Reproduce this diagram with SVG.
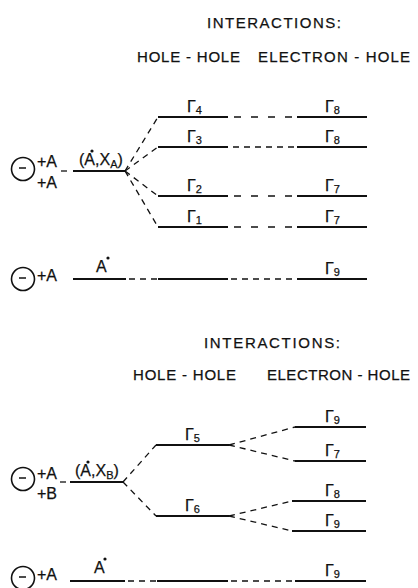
<svg xmlns="http://www.w3.org/2000/svg" width="418" height="588" viewBox="0 0 418 588">
  <style>
    .bg { fill: #ffffff; }
    .lvl { stroke: #111111; stroke-width: 2.2; fill: none; stroke-linecap: butt; }
    .dash { stroke: #111111; stroke-width: 1.3; fill: none; stroke-dasharray: 6 5; }
    .dash-wide { stroke: #111111; stroke-width: 1.3; fill: none; stroke-dasharray: 7 10; }
    .ring { stroke: #111111; stroke-width: 1.6; fill: none; }
    .minus { stroke: #111111; stroke-width: 1.5; }
    .dot { fill: #111111; }
    text { font-family: "Liberation Sans", Arial, sans-serif; fill: #111111; stroke: #111111; stroke-width: 0.25; }
    .head { font-size: 15px; }
    .lab { font-size: 16px; }
    .g { font-size: 16px; }
    .sub { font-size: 11px; }
  </style>

  <rect class="bg" x="0" y="0" width="418" height="588"/>

  <!-- ===== Upper scheme: A + A ===== -->
  <g id="header-top">
    <text class="head" x="207" y="28" textLength="134" lengthAdjust="spacing">INTERACTIONS:</text>
    <text class="head" x="137" y="62" textLength="103" lengthAdjust="spacing">HOLE - HOLE</text>
    <text class="head" x="258" y="62" textLength="152" lengthAdjust="spacing">ELECTRON - HOLE</text>
  </g>

  <g id="site-AA">
    <circle class="ring" cx="23" cy="169" r="11.5"/>
    <line class="minus" x1="19" y1="168" x2="26" y2="168"/>
    <text class="lab" x="37" y="167">+A</text>
    <text class="lab" x="37" y="188">+A</text>
  </g>

  <g id="level-AXA">
    <line class="lvl" x1="73" y1="171" x2="125" y2="171"/>
    <text class="lab" x="79" y="165">(A,X<tspan class="sub" dy="3">A</tspan><tspan dy="-3">)</tspan></text>
    <circle class="dot" cx="92" cy="151" r="1.6"/>
  </g>

  <g id="level-G4">
    <line class="lvl" x1="158" y1="117" x2="228" y2="117"/>
    <text class="g" x="187" y="112">Γ<tspan class="sub" dy="2">4</tspan></text>
  </g>
  <g id="level-G3">
    <line class="lvl" x1="158" y1="147" x2="228" y2="147"/>
    <text class="g" x="187" y="142">Γ<tspan class="sub" dy="2">3</tspan></text>
  </g>
  <g id="level-G2">
    <line class="lvl" x1="158" y1="196" x2="228" y2="196"/>
    <text class="g" x="187" y="191">Γ<tspan class="sub" dy="2">2</tspan></text>
  </g>
  <g id="level-G1">
    <line class="lvl" x1="158" y1="227" x2="228" y2="227"/>
    <text class="g" x="187" y="222">Γ<tspan class="sub" dy="2">1</tspan></text>
  </g>

  <g id="level-G8a">
    <line class="lvl" x1="297" y1="117" x2="367" y2="117"/>
    <text class="g" x="325" y="112">Γ<tspan class="sub" dy="2">8</tspan></text>
  </g>
  <g id="level-G8b">
    <line class="lvl" x1="297" y1="147" x2="367" y2="147"/>
    <text class="g" x="325" y="142">Γ<tspan class="sub" dy="2">8</tspan></text>
  </g>
  <g id="level-G7a">
    <line class="lvl" x1="297" y1="196" x2="367" y2="196"/>
    <text class="g" x="325" y="191">Γ<tspan class="sub" dy="2">7</tspan></text>
  </g>
  <g id="level-G7b">
    <line class="lvl" x1="297" y1="227" x2="367" y2="227"/>
    <text class="g" x="325" y="222">Γ<tspan class="sub" dy="2">7</tspan></text>
  </g>

  <g id="site-A-top">
    <circle class="ring" cx="23" cy="279" r="11.5"/>
    <line class="minus" x1="19" y1="278" x2="26" y2="278"/>
    <text class="lab" x="37" y="281">+A</text>
  </g>
  <g id="level-Astar-top">
    <line class="lvl" x1="73" y1="279" x2="126" y2="279"/>
    <text class="lab" x="96" y="272">A</text>
    <circle class="dot" cx="108" cy="258" r="1.6"/>
  </g>
  <g id="level-Astar-top-hh">
    <line class="lvl" x1="158" y1="279" x2="228" y2="279"/>
  </g>
  <g id="level-G9a">
    <line class="lvl" x1="297" y1="279" x2="367" y2="279"/>
    <text class="g" x="325" y="274">Γ<tspan class="sub" dy="2">9</tspan></text>
  </g>

  <!-- ===== Lower scheme: A + B ===== -->
  <g id="header-bottom">
    <text class="head" x="204" y="348" textLength="136" lengthAdjust="spacing">INTERACTIONS:</text>
    <text class="head" x="133" y="380" textLength="103" lengthAdjust="spacing">HOLE - HOLE</text>
    <text class="head" x="267" y="380" textLength="143" lengthAdjust="spacing">ELECTRON - HOLE</text>
  </g>

  <g id="site-AB">
    <circle class="ring" cx="23" cy="479" r="11.5"/>
    <line class="minus" x1="19" y1="478" x2="26" y2="478"/>
    <text class="lab" x="37" y="479">+A</text>
    <text class="lab" x="37" y="499">+B</text>
  </g>
  <g id="level-AXB">
    <line class="lvl" x1="70" y1="482" x2="123" y2="482"/>
    <text class="lab" x="75" y="476">(A,X<tspan class="sub" dy="3">B</tspan><tspan dy="-3">)</tspan></text>
    <circle class="dot" cx="88" cy="462" r="1.6"/>
  </g>

  <g id="level-G5">
    <line class="lvl" x1="156" y1="445" x2="229" y2="445"/>
    <text class="g" x="185" y="440">Γ<tspan class="sub" dy="2">5</tspan></text>
  </g>
  <g id="level-G6">
    <line class="lvl" x1="156" y1="516" x2="229" y2="516"/>
    <text class="g" x="185" y="511">Γ<tspan class="sub" dy="2">6</tspan></text>
  </g>

  <g id="level-G9b">
    <line class="lvl" x1="295" y1="427" x2="366" y2="427"/>
    <text class="g" x="325" y="422">Γ<tspan class="sub" dy="2">9</tspan></text>
  </g>
  <g id="level-G7c">
    <line class="lvl" x1="295" y1="461" x2="366" y2="461"/>
    <text class="g" x="325" y="456">Γ<tspan class="sub" dy="2">7</tspan></text>
  </g>
  <g id="level-G8c">
    <line class="lvl" x1="292" y1="501" x2="366" y2="501"/>
    <text class="g" x="325" y="496">Γ<tspan class="sub" dy="2">8</tspan></text>
  </g>
  <g id="level-G9c">
    <line class="lvl" x1="292" y1="531" x2="366" y2="531"/>
    <text class="g" x="325" y="526">Γ<tspan class="sub" dy="2">9</tspan></text>
  </g>

  <g id="site-A-bottom">
    <circle class="ring" cx="23" cy="578" r="11.5"/>
    <line class="minus" x1="19" y1="577" x2="26" y2="577"/>
    <text class="lab" x="37" y="580">+A</text>
  </g>
  <g id="level-Astar-bottom">
    <line class="lvl" x1="70" y1="581" x2="125" y2="581"/>
    <text class="lab" x="94" y="573">A</text>
    <circle class="dot" cx="105" cy="559" r="1.6"/>
  </g>
  <g id="level-Astar-bottom-hh">
    <line class="lvl" x1="157" y1="581" x2="228" y2="581"/>
  </g>
  <g id="level-G9d">
    <line class="lvl" x1="295" y1="581" x2="366" y2="581"/>
    <text class="g" x="325" y="576">Γ<tspan class="sub" dy="2">9</tspan></text>
  </g>

  <!-- ===== Correlation lines ===== -->
  <g id="connectors">
    <!-- upper scheme -->
    <line class="dash" x1="61" y1="171" x2="72" y2="171"/>
    <line class="dash" x1="125" y1="171" x2="158" y2="117"/>
    <line class="dash" x1="125" y1="171" x2="158" y2="147"/>
    <line class="dash" x1="125" y1="171" x2="158" y2="196"/>
    <line class="dash" x1="125" y1="171" x2="158" y2="227"/>
    <line class="dash-wide" x1="234" y1="117" x2="297" y2="117"/>
    <line class="dash" x1="233" y1="147" x2="297" y2="147"/>
    <line class="dash-wide" x1="234" y1="196" x2="297" y2="196"/>
    <line class="dash-wide" x1="234" y1="227" x2="297" y2="227"/>
    <line class="dash" x1="129" y1="279" x2="158" y2="279"/>
    <line class="dash" x1="231" y1="279" x2="297" y2="279"/>
    <!-- lower scheme -->
    <line class="dash" x1="60" y1="482" x2="70" y2="482"/>
    <line class="dash" x1="123" y1="482" x2="156" y2="445"/>
    <line class="dash" x1="123" y1="482" x2="156" y2="516"/>
    <line class="dash" x1="229" y1="445" x2="295" y2="427"/>
    <line class="dash" x1="229" y1="445" x2="295" y2="461"/>
    <line class="dash" x1="229" y1="516" x2="292" y2="501"/>
    <line class="dash" x1="229" y1="516" x2="292" y2="531"/>
    <line class="dash" x1="128" y1="581" x2="157" y2="581"/>
    <line class="dash" x1="231" y1="581" x2="295" y2="581"/>
  </g>
</svg>
